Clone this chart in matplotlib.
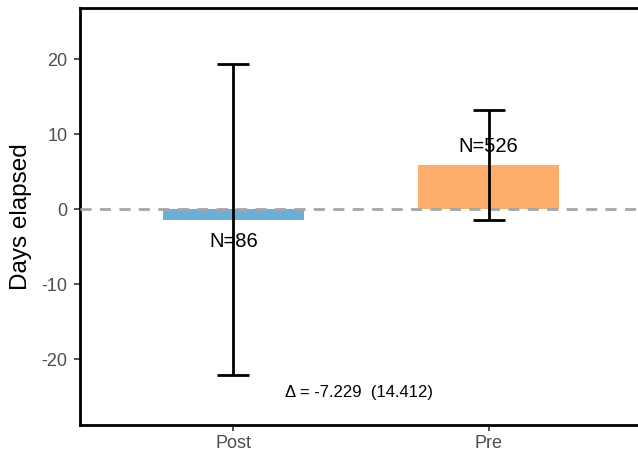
import matplotlib.pyplot as plt
import numpy as np

# datos
grupos = ['Post', 'Pre']
medias = [-1.47, 5.87]
err_sup = [19.35, 13.2]
err_inf = [-22.1, -1.4]
n_obs = [86, 526]
n_pos = [-4.3, 8.4]
colores = ['#6BAED6', '#FDAE6B']
delta_txt = '\u0394 = -7.229  (14.412)'

plt.rcParams['font.family'] = ['Liberation Sans', 'DejaVu Sans']
plt.rcParams['axes.unicode_minus'] = False

fig = plt.figure(figsize=(6.38, 4.54), dpi=100)
ax = fig.add_axes([80 / 638, 29 / 454, 562 / 638, 417.5 / 454])

x = np.arange(1, len(grupos) + 1)
ax.bar(x, medias, width=0.55, color=colores, zorder=2)
ax.axhline(0, color='#A6A6A6', lw=2, ls=(0, (4, 3)), zorder=3)

# barras de error
for xi, lo, hi in zip(x, err_inf, err_sup):
    ax.vlines(xi, lo, hi, color='black', lw=2, zorder=4)
    ax.hlines([lo, hi], xi - 0.062, xi + 0.062, color='black', lw=2, zorder=4)

for xi, n, yp in zip(x, n_obs, n_pos):
    ax.text(xi, yp, 'N={}'.format(n), ha='center', va='center',
            fontsize=14.5, color='black', zorder=5)

ax.text(1.494, -24.4, delta_txt, ha='center', va='center', fontsize=12)

ax.set_xlim(0.4, 2.6)
ax.set_ylim(-28.8, 26.87)
ax.set_xticks(x)
ax.set_xticklabels(grupos)
ax.set_yticks([-20, -10, 0, 10, 20])
ax.set_ylabel('Days elapsed', fontsize=17.5, labelpad=7)
ax.tick_params(axis='both', labelsize=13, labelcolor='#4D4D4D',
               color='#333333', length=4, width=1.2)
ax.tick_params(axis='y', pad=5)

for s in ax.spines.values():
    s.set_linewidth(2)
    s.set_color('black')

fig.savefig('out.png', dpi=100)
